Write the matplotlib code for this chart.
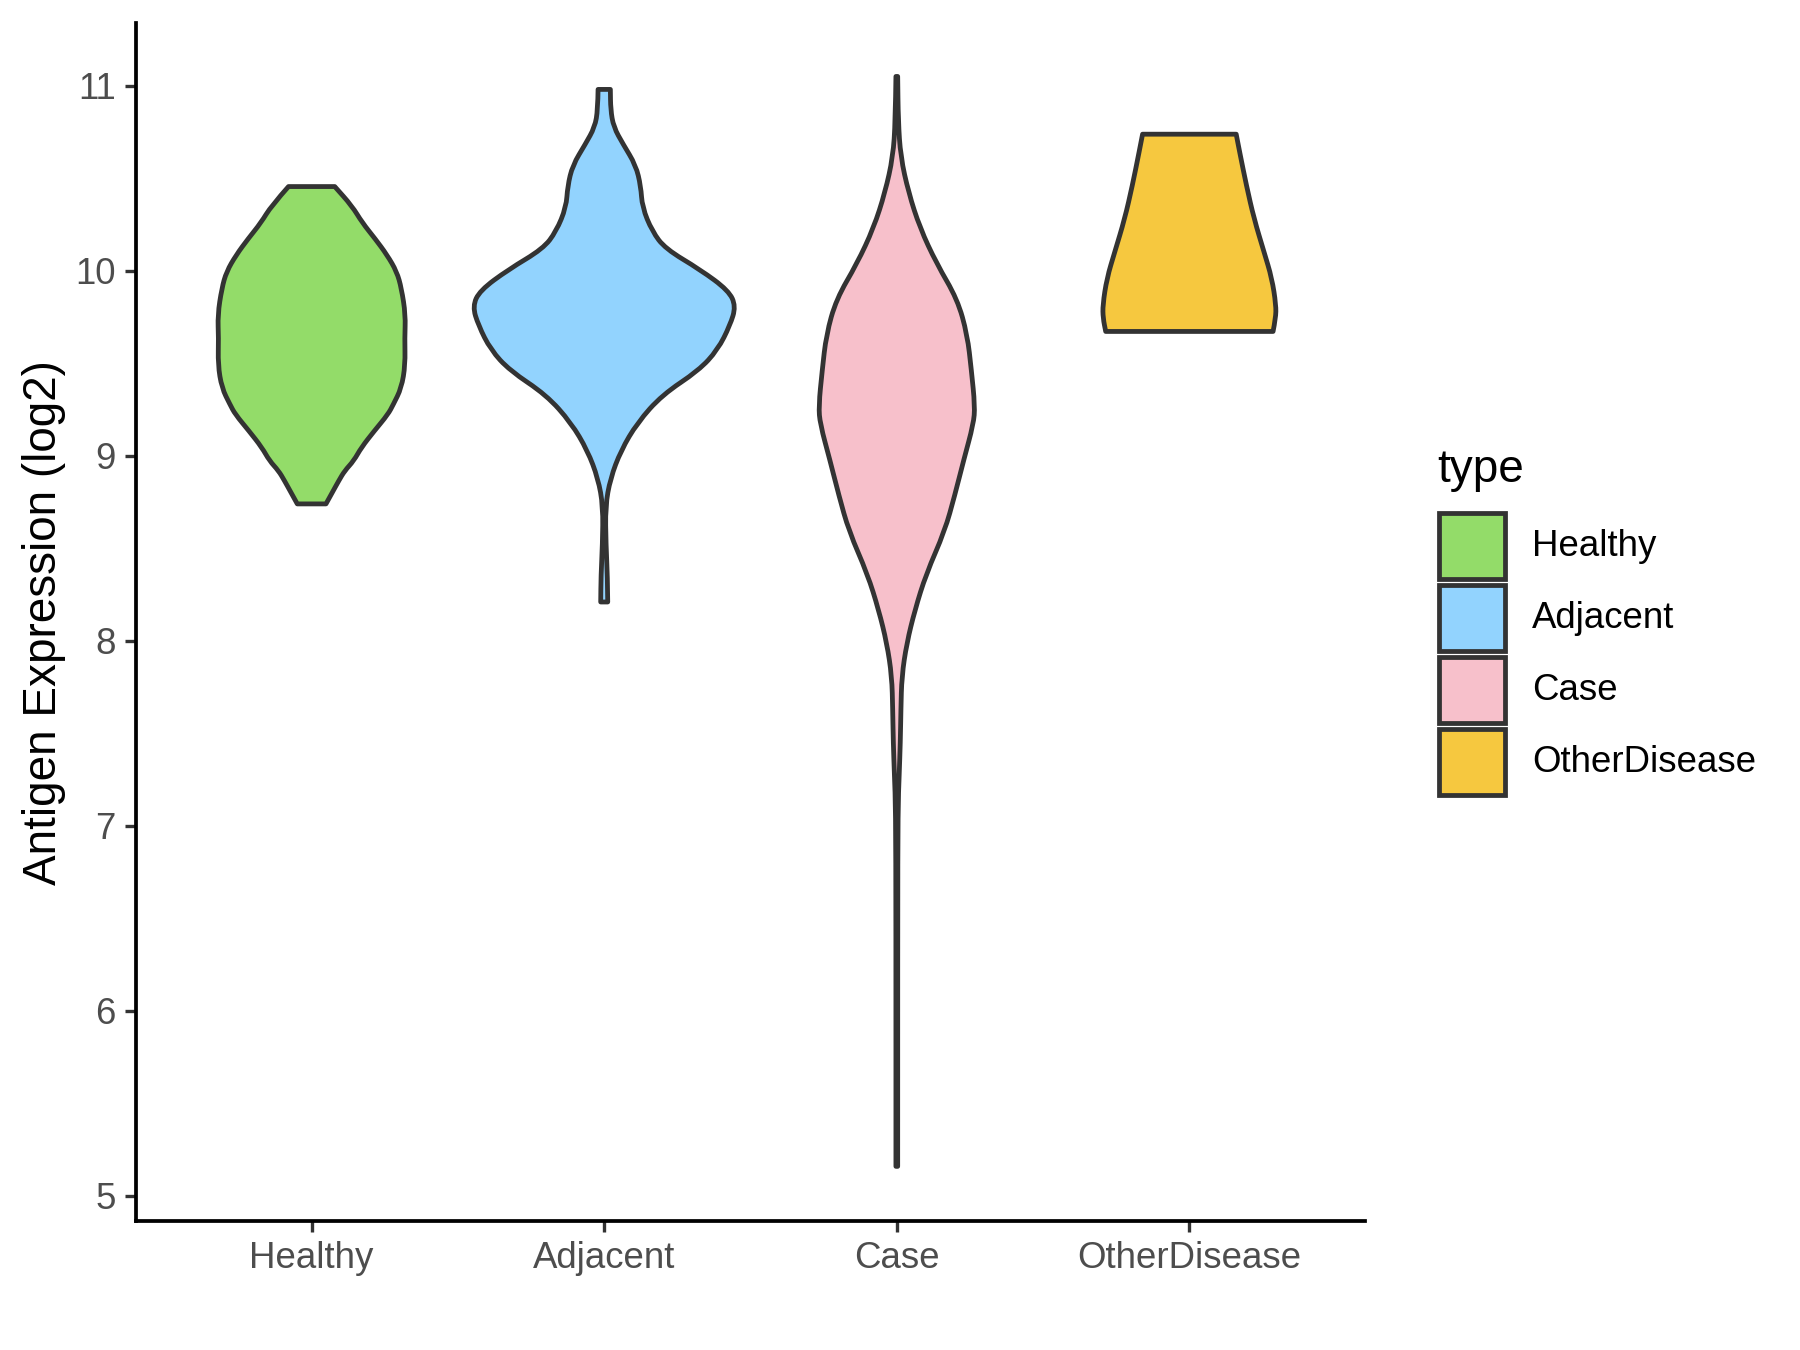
import matplotlib
matplotlib.use("Agg")
import matplotlib.pyplot as plt
from matplotlib.patches import Rectangle, PathPatch
from matplotlib.path import Path

plt.rcParams['font.family'] = ['Liberation Sans', 'DejaVu Sans']

categories = ["Healthy", "Adjacent", "Case", "OtherDisease"]
colors = ["#93DC69", "#92D3FE", "#F7C0CB", "#F6C83F"]

# violin outlines: y level and half width (x units)
healthy_y = [8.74, 8.80, 8.866, 8.919, 8.973, 9.045, 9.134, 9.224, 9.277, 9.367,
             9.492, 9.636, 9.761, 9.905, 9.995, 10.085, 10.173, 10.26, 10.35, 10.455]
healthy_w = [0.049, 0.070, 0.093, 0.113, 0.144, 0.170, 0.214, 0.261, 0.279, 0.307,
             0.320, 0.318, 0.321, 0.307, 0.291, 0.258, 0.217, 0.173, 0.138, 0.079]

adjacent_y = [8.21, 8.351, 8.52, 8.727, 8.877, 9.028, 9.178, 9.329, 9.461, 9.573,
              9.705, 9.808, 9.893, 10.006, 10.119, 10.213, 10.344, 10.457, 10.57,
              10.683, 10.777, 10.871, 10.98]
adjacent_w = [0.012, 0.011, 0.006, 0.004, 0.021, 0.057, 0.113, 0.198, 0.323, 0.388,
              0.430, 0.450, 0.425, 0.328, 0.209, 0.164, 0.130, 0.125, 0.108,
              0.065, 0.032, 0.022, 0.021]

case_y = [5.16, 6.5, 7.09, 7.27, 7.449, 7.629, 7.808, 7.987, 8.167, 8.36,
          8.594, 8.786, 8.979, 9.172, 9.268, 9.461, 9.654, 9.846, 10.039, 10.232,
          10.424, 10.617, 10.81, 11.05]
case_w = [0.003, 0.003, 0.004, 0.008, 0.012, 0.014, 0.017, 0.034, 0.062, 0.100,
          0.164, 0.198, 0.229, 0.262, 0.267, 0.255, 0.241, 0.207, 0.136, 0.079,
          0.040, 0.013, 0.005, 0.003]

other_y = [9.672, 9.744, 9.815, 9.959, 10.102, 10.281, 10.46, 10.64, 10.738]
other_w = [0.286, 0.295, 0.296, 0.282, 0.255, 0.221, 0.195, 0.172, 0.160]

profiles = [(healthy_y, healthy_w), (adjacent_y, adjacent_w),
            (case_y, case_w), (other_y, other_w)]
yticks = [5, 6, 7, 8, 9, 10, 11]


def smooth_side(pts):
    # quadratic curve segments using the read points as control points
    verts, codes = [], []
    for i in range(1, len(pts) - 1):
        mid = ((pts[i][0] + pts[i + 1][0]) / 2, (pts[i][1] + pts[i + 1][1]) / 2)
        verts += [pts[i], mid]
        codes += [Path.CURVE3, Path.CURVE3]
    verts.append(pts[-1])
    codes.append(Path.LINETO)
    return verts, codes


def violin_path(pos, ys, ws):
    right = [(pos + w, y) for y, w in zip(ys, ws)]
    left = [(pos - w, y) for y, w in zip(ys, ws)][::-1]
    verts = [right[0]]
    codes = [Path.MOVETO]
    v, c = smooth_side(right)
    verts += v
    codes += c
    verts.append(left[0])
    codes.append(Path.LINETO)
    v, c = smooth_side(left)
    verts += v
    codes += c
    verts.append(right[0])
    codes.append(Path.CLOSEPOLY)
    return Path(verts, codes)


fig = plt.figure(figsize=(6, 4.5), dpi=300)
ax = fig.add_axes([0.0756, 0.0956, 0.6827, 0.8871])

for i, (ys, ws) in enumerate(profiles):
    patch = PathPatch(violin_path(i + 1, ys, ws), facecolor=colors[i],
                      edgecolor="#333333", linewidth=1.15, joinstyle="round", zorder=2)
    ax.add_patch(patch)

ax.set_xlim(0.4, 4.6)
ax.set_ylim(4.865, 11.337)
ax.set_xticks(range(1, len(categories) + 1))
ax.set_xticklabels(categories)
ax.set_yticks(yticks)
ax.set_yticklabels([str(t) for t in yticks])

for s in ["top", "right"]:
    ax.spines[s].set_visible(False)
for s in ["left", "bottom"]:
    ax.spines[s].set_linewidth(0.9)
    ax.spines[s].set_color("black")

ax.tick_params(axis="both", length=2.64, width=0.8, color="#333333",
               labelsize=8.8, labelcolor="#4D4D4D", pad=2.2)
ax.set_ylabel("Antigen Expression (log2)", fontsize=11, color="black")
ax.yaxis.set_label_coords(-0.057, 0.5)

# legend drawn in figure pixel space
lax = fig.add_axes([0, 0, 1, 1], zorder=-1)
lax.set_xlim(0, 1800)
lax.set_ylim(1350, 0)
lax.axis("off")
lax.text(1437, 482, "type", fontsize=11, color="black", ha="left", va="baseline")
for i, (cat, col) in enumerate(zip(categories, colors)):
    top = 512 + i * 72
    lax.add_patch(Rectangle((1439, top + 1), 66, 66, facecolor=col,
                            edgecolor="#333333", linewidth=1.15))
    lax.text(1532, top + 34, cat, fontsize=8.8, color="black",
             ha="left", va="center")

fig.savefig("out.png", dpi=300)
